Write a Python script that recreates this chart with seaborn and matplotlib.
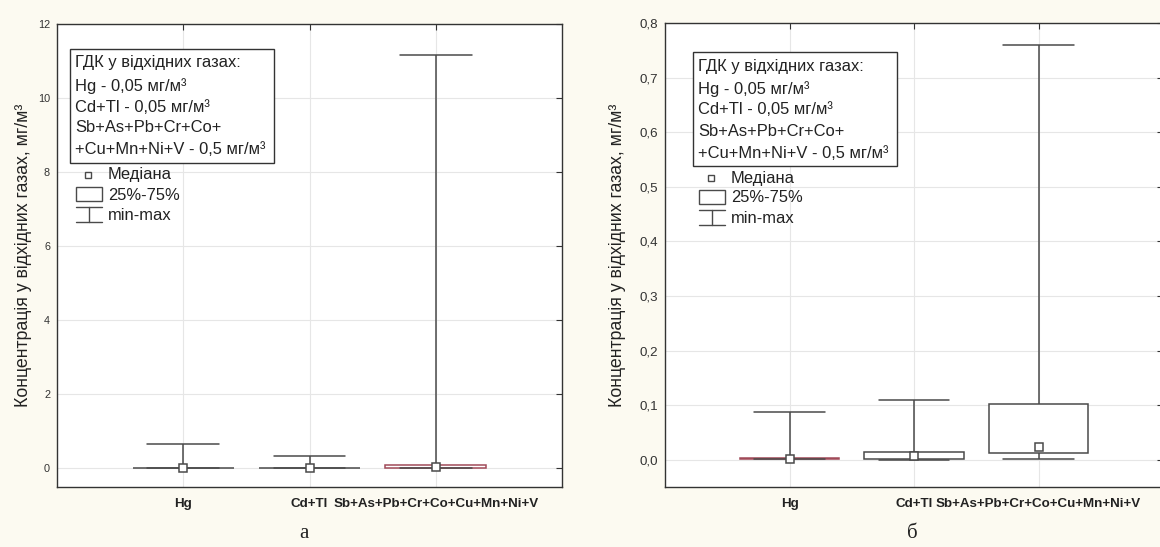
import numpy as np
import pandas as pd
import matplotlib
matplotlib.use("Agg")
import matplotlib.pyplot as plt
from matplotlib.patches import Rectangle
from matplotlib.lines import Line2D
import seaborn as sns

# ---- data -----------------------------------------------------------------
categories = ["Hg", "Cd+Tl", "Sb+As+Pb+Cr+Co+Cu+Mn+Ni+V"]

# panel "а": five-number summaries, mg/m3
min_a = [0.0, 0.0, 0.0]
q1_a = [0.0, 0.0, 0.02]
med_a = [0.002, 0.001, 0.05]
q3_a = [0.01, 0.01, 0.10]
max_a = [0.67, 0.33, 11.15]

# panel "б": five-number summaries, mg/m3
min_b = [0.0005, 0.0, 0.001]
q1_b = [0.001, 0.002, 0.013]
med_b = [0.002, 0.007, 0.024]
q3_b = [0.004, 0.015, 0.102]
max_b = [0.088, 0.109, 0.76]

yticks_a = [0, 2, 4, 6, 8, 10, 12]
yticks_b = [0.0, 0.1, 0.2, 0.3, 0.4, 0.5, 0.6, 0.7, 0.8]

limit_lines = [
    "ГДК у відхідних газах:",
    "Hg - 0,05 мг/м³",
    "Cd+Tl - 0,05 мг/м³",
    "Sb+As+Pb+Cr+Co+",
    "+Cu+Mn+Ni+V - 0,5 мг/м³",
]
key_labels = ["Медіана", "25%-75%", "min-max"]
ylabel_text = "Концентрація у відхідних газах, мг/м³"
captions = ["а", "б"]

# ---- style ----------------------------------------------------------------
sns.set_theme(style="white")
plt.rcParams["font.family"] = ["Liberation Sans", "DejaVu Sans"]

W, H = 1160, 547
LINE = "#4a4a4a"
THIN = "#a04a58"
BG = "#fcfaf1"
KEY_FS = 11.9

fig = plt.figure(figsize=(W / 100, H / 100), dpi=100, facecolor=BG)


def fig_rect(left, top, right, bottom):
    return [left / W, 1 - bottom / H, (right - left) / W, (bottom - top) / H]


def fx(x):
    return x / W


def fy(y):
    return 1 - y / H


def summary_frame(mins, q1, med, q3, maxs):
    rows = []
    for i, cat in enumerate(categories):
        for v in (mins[i], q1[i], med[i], q3[i], maxs[i]):
            rows.append({"cat": cat, "val": v})
    return pd.DataFrame(rows)


def draw_panel(ax, mins, q1, med, q3, maxs, yticks, ylim, fmt, ytick_size,
               box_edges, ylabel_x):
    df = summary_frame(mins, q1, med, q3, maxs)
    sns.boxplot(data=df, x="cat", y="val", ax=ax, whis=(0, 100), width=0.8,
                color="white", linecolor=LINE, linewidth=1.1,
                showfliers=False, medianprops={"visible": False},
                capwidths=0.57)
    for patch, ec in zip(ax.patches, box_edges):
        patch.set_edgecolor(ec)
    sns.pointplot(x=categories, y=med, ax=ax, linestyle="none", markers="s",
                  errorbar=None, color=LINE, markerfacecolor="white",
                  markeredgecolor=LINE, markersize=6, markeredgewidth=1.1,
                  zorder=6)
    ax.set_facecolor("white")
    ax.set_xlim(-1, 3)
    ax.set_ylim(*ylim)
    ax.set_yticks(yticks)
    ax.set_yticklabels([fmt(v) for v in yticks], fontsize=ytick_size,
                       color="#333333")
    ax.set_xticks(range(len(categories)))
    ax.set_xticklabels(categories, fontsize=9.6, fontweight="bold",
                       color="#222222")
    ax.set_xlabel("")
    ax.set_ylabel(ylabel_text, fontsize=12.8, color="#222222")
    ax.yaxis.set_label_coords(ylabel_x, 0.5)
    ax.tick_params(direction="in", length=4, width=0.8, color="#333333",
                   top=True, right=True, pad=5)
    ax.tick_params(axis="x", pad=8)
    ax.grid(True, color="#e6e6e6", linewidth=0.8)
    ax.set_axisbelow(True)
    for sp in ax.spines.values():
        sp.set_visible(True)
        sp.set_color("#333333")
        sp.set_linewidth(1.0)


def draw_key(bx, by):
    # text box with limit values
    fig.patches.append(Rectangle((fx(bx), fy(by + 114)), 204 / W, 114 / H,
                                 transform=fig.transFigure, facecolor="white",
                                 edgecolor="#333333", linewidth=1.0,
                                 zorder=10))
    for dy, line in zip([14, 37, 58, 79, 101], limit_lines):
        fig.text(fx(bx + 5), fy(by + dy), line, fontsize=KEY_FS,
                 color="#222222", va="center", ha="left", zorder=11)
    # median symbol
    fig.lines.append(Line2D([fx(bx + 18)], [fy(by + 126)], marker="s",
                            markersize=5, markerfacecolor="white",
                            markeredgecolor=LINE, markeredgewidth=1.0,
                            transform=fig.transFigure, zorder=11))
    # quartile box symbol
    fig.patches.append(Rectangle((fx(bx + 6), fy(by + 152)), 26 / W, 14 / H,
                                 transform=fig.transFigure, facecolor="white",
                                 edgecolor=LINE, linewidth=1.0, zorder=11))
    # min-max symbol
    for xs, ys in [((bx + 6, bx + 32), (by + 158, by + 158)),
                   ((bx + 6, bx + 32), (by + 173, by + 173)),
                   ((bx + 19, bx + 19), (by + 158, by + 173))]:
        fig.lines.append(Line2D([fx(x) for x in xs], [fy(y) for y in ys],
                                color=LINE, linewidth=1.0,
                                transform=fig.transFigure, zorder=11))
    for dy, lab in zip([126, 146, 166], key_labels):
        fig.text(fx(bx + 38), fy(by + dy), lab, fontsize=KEY_FS,
                 color="#222222", va="center", ha="left", zorder=11)


ax_a = fig.add_axes(fig_rect(57, 24, 562, 487))
ax_b = fig.add_axes(fig_rect(665, 23, 1163, 487))

draw_panel(ax_a, min_a, q1_a, med_a, q3_a, max_a, yticks_a, (-0.5, 12),
           lambda v: f"{v:d}", 7.8, [LINE, LINE, THIN], -0.05)
draw_panel(ax_b, min_b, q1_b, med_b, q3_b, max_b, yticks_b, (-0.05, 0.8),
           lambda v: f"{v:.1f}".replace(".", ","), 9.6, [THIN, LINE, LINE],
           -0.078)

draw_key(70, 49)
draw_key(693, 52)

fig.text(fx(304), fy(534), captions[0], fontsize=15, family="Liberation Serif",
         ha="center", va="center", color="#222222")
fig.text(fx(912), fy(534), captions[1], fontsize=15, family="Liberation Serif",
         ha="center", va="center", color="#222222")

fig.savefig("out.png", dpi=100, facecolor=BG)
